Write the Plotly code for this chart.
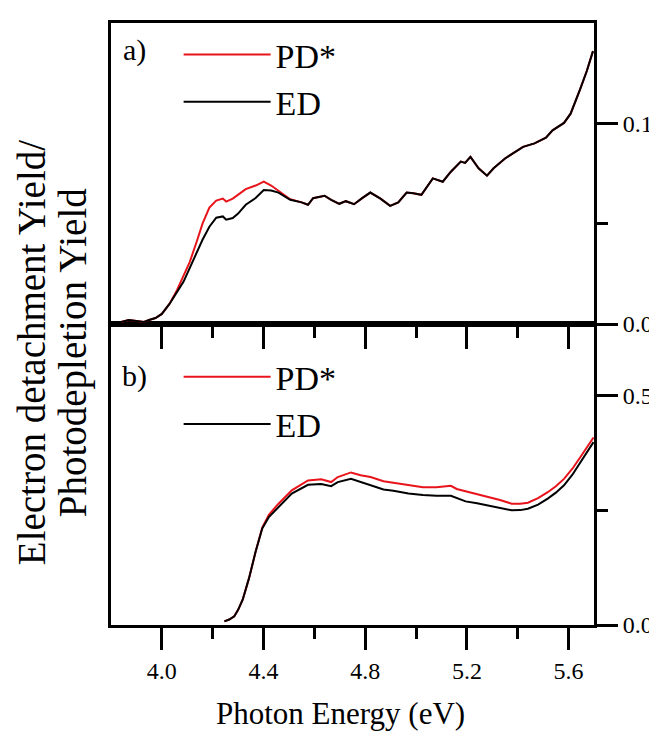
import plotly.graph_objects as go

# ---------------- data ----------------
energy_a = [3.84, 3.87, 3.90, 3.93, 3.95, 3.975, 4.00, 4.03, 4.06, 4.085, 4.11, 4.137, 4.16, 4.187,
            4.214, 4.24, 4.253, 4.279, 4.30, 4.33, 4.369, 4.401, 4.43, 4.459, 4.48, 4.505, 4.55,
            4.575, 4.595, 4.64, 4.666, 4.698, 4.724, 4.756, 4.788, 4.82, 4.86, 4.898, 4.93, 4.963,
            4.989, 5.021, 5.066, 5.105, 5.137, 5.176, 5.193, 5.214, 5.246, 5.279, 5.305, 5.35,
            5.421, 5.466, 5.511, 5.537, 5.582, 5.608, 5.646, 5.672, 5.696]
ed_a = [0.001, 0.002, 0.0015, 0.001, 0.002, 0.003, 0.005, 0.010, 0.016, 0.021, 0.028, 0.0356, 0.042,
        0.0485, 0.053, 0.0536, 0.052, 0.0528, 0.055, 0.0594, 0.0628, 0.0668, 0.0665, 0.0655, 0.064,
        0.0619, 0.0606, 0.0594, 0.0627, 0.0639, 0.0619, 0.0599, 0.0612, 0.0597, 0.0627, 0.0655,
        0.0625, 0.0589, 0.0606, 0.0655, 0.0652, 0.0644, 0.0726, 0.0709, 0.0759, 0.0809, 0.0803,
        0.0833, 0.0776, 0.0739, 0.0776, 0.0825, 0.0883, 0.090, 0.0929, 0.0965, 0.1002, 0.1048,
        0.1172, 0.1262, 0.136]
pd_a = [0.001, 0.002, 0.0015, 0.001, 0.002, 0.003, 0.005, 0.010, 0.017, 0.024, 0.031, 0.041, 0.050,
        0.058, 0.0615, 0.0625, 0.061, 0.0625, 0.0645, 0.0672, 0.0690, 0.0710, 0.0690, 0.0665, 0.0645,
        0.0622, 0.0606, 0.0594, 0.0627, 0.0639, 0.0619, 0.0599, 0.0612, 0.0597, 0.0627, 0.0655,
        0.0625, 0.0589, 0.0606, 0.0655, 0.0652, 0.0644, 0.0726, 0.0709, 0.0759, 0.0809, 0.0803,
        0.0833, 0.0776, 0.0739, 0.0776, 0.0825, 0.0883, 0.090, 0.0929, 0.0965, 0.1002, 0.1048,
        0.1172, 0.1262, 0.136]

energy_b = [4.246, 4.265, 4.285, 4.30, 4.318, 4.343, 4.369, 4.395, 4.421, 4.459, 4.511, 4.575, 4.627,
            4.666, 4.692, 4.744, 4.782, 4.821, 4.872, 4.911, 4.97, 5.027, 5.08, 5.137, 5.16, 5.195,
            5.24, 5.286, 5.33, 5.376, 5.41, 5.44, 5.48, 5.518, 5.55, 5.582, 5.615, 5.646, 5.672, 5.698]
ed_b = [0.008, 0.012, 0.019, 0.033, 0.055, 0.102, 0.160, 0.210, 0.235, 0.257, 0.286, 0.305, 0.307,
        0.302, 0.311, 0.318, 0.311, 0.304, 0.295, 0.292, 0.286, 0.283, 0.281, 0.281, 0.276, 0.269,
        0.265, 0.260, 0.255, 0.2495, 0.250, 0.253, 0.262, 0.275, 0.288, 0.304, 0.327, 0.354, 0.376, 0.398]
pd_b = [0.008, 0.012, 0.019, 0.033, 0.055, 0.102, 0.160, 0.212, 0.240, 0.264, 0.293, 0.3145, 0.317,
        0.311, 0.322, 0.332, 0.326, 0.322, 0.313, 0.310, 0.305, 0.300, 0.300, 0.303, 0.296, 0.291,
        0.285, 0.279, 0.272, 0.264, 0.264, 0.266, 0.276, 0.289, 0.302, 0.318, 0.340, 0.365, 0.387, 0.408]

x_ticks = [4.0, 4.4, 4.8, 5.2, 5.6]
x_ticktext = ["4.0", "4.4", "4.8", "5.2", "5.6"]
ya_ticks = [0.0, 0.1]
ya_ticktext = ["0.0", "0.1"]
yb_ticks = [0.0, 0.5]
yb_ticktext = ["0.0", "0.5"]

RED = "#e8141b"
BLACK = "#000000"
FONT = "Liberation Serif, Times New Roman, serif"

fig = go.Figure()
fig.add_trace(go.Scatter(x=energy_a, y=pd_a, name="PD*", mode="lines", line=dict(color=RED, width=2),
                         xaxis="x2", yaxis="y2", legend="legend"))
fig.add_trace(go.Scatter(x=energy_a, y=ed_a, name="ED", mode="lines", line=dict(color=BLACK, width=2),
                         xaxis="x2", yaxis="y2", legend="legend"))
fig.add_trace(go.Scatter(x=energy_b, y=pd_b, name="PD*", mode="lines", line=dict(color=RED, width=2),
                         xaxis="x", yaxis="y", legend="legend2"))
fig.add_trace(go.Scatter(x=energy_b, y=ed_b, name="ED", mode="lines", line=dict(color=BLACK, width=2),
                         xaxis="x", yaxis="y", legend="legend2"))

common_x = dict(range=[3.8, 5.7], tickvals=x_ticks, ticktext=x_ticktext, ticks="outside", ticklen=22,
                tickwidth=3, tickcolor="black", showline=True, linewidth=3, linecolor="black",
                mirror=True, showgrid=False, zeroline=False,
                minor=dict(tickvals=[4.2, 4.6, 5.0, 5.4], ticks="outside", ticklen=11, tickwidth=3,
                           tickcolor="black", showgrid=False))
common_y = dict(side="right", ticks="outside", ticklen=21, tickwidth=3, tickcolor="black",
                showline=True, linewidth=3, linecolor="black", mirror=True, showgrid=False,
                zeroline=False, tickfont=dict(family=FONT, size=24, color="black"))

legend_common = dict(font=dict(family=FONT, size=34, color="black"), bgcolor="rgba(0,0,0,0)",
                     borderwidth=0, itemwidth=87, xanchor="left", yanchor="top", tracegroupgap=0)

fig.update_layout(
    width=657, height=737,
    margin=dict(l=103, r=63, t=13, b=120),
    paper_bgcolor="white", plot_bgcolor="white",
    xaxis=dict(domain=[0, 1], anchor="y", tickfont=dict(family=FONT, size=24, color="black"),
               **common_x),
    xaxis2=dict(domain=[0, 1], anchor="y2", matches="x", showticklabels=False, **common_x),
    yaxis=dict(domain=[0, 0.5], anchor="x", range=[0, 0.655], tickvals=yb_ticks, ticktext=yb_ticktext,
               minor=dict(tickvals=[0.25], ticks="outside", ticklen=11, tickwidth=3, tickcolor="black"),
               **common_y),
    yaxis2=dict(domain=[0.5, 1], anchor="x2", range=[0, 0.15], tickvals=ya_ticks, ticktext=ya_ticktext,
                minor=dict(tickvals=[0.05], ticks="outside", ticklen=11, tickwidth=3, tickcolor="black"),
                **common_y),
    legend=dict(x=0.14, y=0.995, **legend_common),
    legend2=dict(x=0.14, y=0.46, **legend_common),
    showlegend=True,
    annotations=[
        dict(text="a)", xref="paper", yref="paper", x=0.049, y=0.955, xanchor="center",
             yanchor="middle", showarrow=False, font=dict(family=FONT, size=30, color="black")),
        dict(text="b)", xref="paper", yref="paper", x=0.049, y=0.414, xanchor="center",
             yanchor="middle", showarrow=False, font=dict(family=FONT, size=30, color="black")),
        dict(text="Photon Energy (eV)", xref="paper", yref="paper", x=0.4745, y=-0.147,
             xanchor="center", yanchor="middle",
             showarrow=False, font=dict(family=FONT, size=31, color="black")),
        dict(text="Electron detachment Yield/", xref="paper", yref="paper", x=-0.163, y=0.452,
             xanchor="center", yanchor="middle",
             textangle=-90, showarrow=False, font=dict(family=FONT, size=39, color="black")),
        dict(text="Photodepletion Yield", xref="paper", yref="paper", x=-0.078, y=0.452,
             xanchor="center", yanchor="middle",
             textangle=-90, showarrow=False, font=dict(family=FONT, size=39, color="black")),
    ],
)

fig.write_html("out.html")
